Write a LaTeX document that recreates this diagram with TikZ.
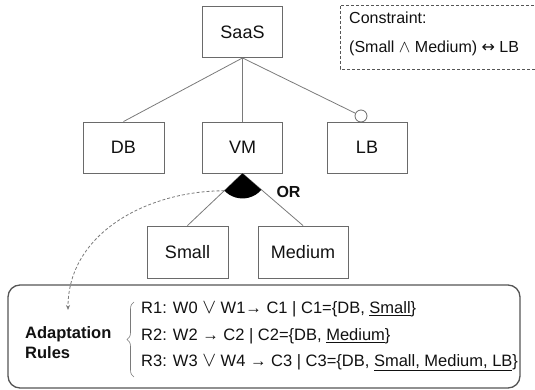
\documentclass[tikz,border=0pt]{standalone}
\usepackage{fontspec}
\setmainfont{Liberation Sans}
\newfontfamily\symfont{DejaVu Sans}
\usetikzlibrary{decorations.pathreplacing,calc,arrows.meta}
\newcommand{\myor}{{\fontsize{20}{20}\selectfont$\vee$}}
\newcommand{\myand}{{\fontsize{17}{17}\selectfont$\wedge$}}
\newcommand{\myiff}{{\symfont ↔}}
\definecolor{boxgray}{HTML}{6A6A6A}
\definecolor{linegray}{HTML}{7A7A7A}
\definecolor{framegray}{HTML}{555555}
\definecolor{txt}{HTML}{111111}
\begin{document}
\begin{tikzpicture}[x=1pt,y=1pt,
  feat/.style={draw=boxgray, line width=0.9pt, minimum width=80pt, minimum height=51pt,
    inner sep=0pt, text=txt, font=\fontsize{18}{21}\selectfont},
  conn/.style={draw=linegray, line width=0.8pt},
  ctext/.style={anchor=west, inner sep=0pt, text=txt, font=\fontsize{16}{19}\selectfont},
  rule/.style={anchor=west, inner sep=0pt, text=txt, font=\fontsize{16.5}{19}\selectfont},
]
\useasboundingbox (0,0) rectangle (535,390);
% constraint box
\draw[draw=framegray, line width=0.9pt, dash pattern=on 3pt off 2pt] (545,321) -- (340,321) -- (340,385) -- (545,385);
\node[ctext] (c1) at (349,372) {Constraint:};
\node[ctext] (c2) at (349,342) {(Small \myand{} Medium) \myiff{} LB};
% features
\node[feat] (saas) at (242.5,358) {SaaS};
\node[feat, minimum width=81pt] (db) at (123.5,242.5) {DB};
\node[feat] (vm) at (242.5,242.5) {VM};
\node[feat] (lb) at (367,242.5) {LB};
\node[feat, minimum width=81pt, minimum height=52pt] (small) at (187.5,138) {Small};
\node[feat, minimum width=90pt, minimum height=52pt] (medium) at (303,138) {Medium};
\node[circle, draw=boxgray, fill=white, line width=0.8pt, minimum size=12pt, inner sep=0pt] (opt) at (361,274) {};
% connectors
\draw[conn] (saas.south) -- (db.north);
\draw[conn] (saas.south) -- (vm.north);
\draw[conn] (saas.south) -- (opt);
\draw[conn] (vm.south) -- (small.north);
\draw[conn] (vm.south) -- (medium.north);
% OR sector
\fill[black] (vm.south) -- ++(223.9:25) arc[start angle=223.9, end angle=318.8, radius=25] -- cycle;
\coordinate (orL) at ($(vm.south)+(223.9:25)$);
\node[text=txt, font=\bfseries\fontsize{16}{19}\selectfont, inner sep=0pt] (or) at (288.5,198) {OR};
% rules box
\node[draw=framegray, line width=1.3pt, rounded corners=12pt, minimum width=512pt, minimum height=103pt, inner sep=0pt] (rules) at (264,53.5) {};
\coordinate (arrEnd) at (68,80);
\draw[linegray, line width=0.8pt, dash pattern=on 3pt off 2pt, -{Stealth[length=5pt,width=4pt]}] (orL) to[out=180,in=90] (arrEnd);
\node[anchor=west, inner sep=0pt, align=left, text=txt, font=\bfseries\fontsize{16.5}{19.5}\selectfont] (ar) at (25,47.5) {Adaptation\\Rules};
\draw[linegray, line width=0.6pt, decorate, decoration={brace, amplitude=7pt}] (134,13) -- (134,88);
\node[rule] (r1) at (141,81) {R1: W0 \myor{} W1→ C1 | C1=\{DB, \underline{Small}\}};
\node[rule] (r2) at (141,54) {R2: W2 → C2 | C2=\{DB, \underline{Medium}\}};
\node[rule] (r3) at (141,27) {R3: W3 \myor{} W4 → C3 | C3=\{DB, \underline{Small, Medium, LB}\}};
\end{tikzpicture}
\end{document}
